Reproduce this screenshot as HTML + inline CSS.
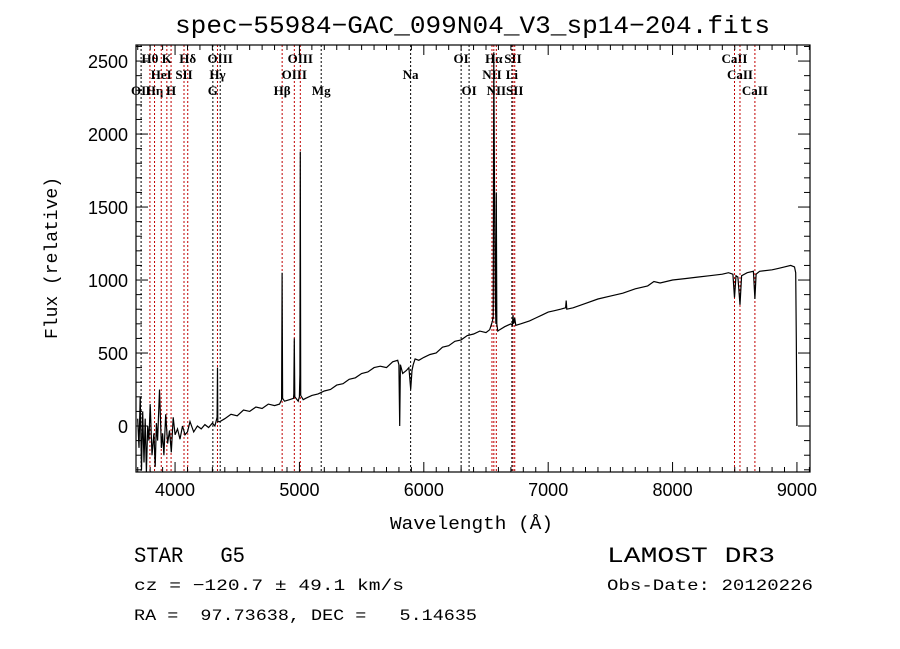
<!DOCTYPE html>
<html><head><meta charset="utf-8">
<style>
html,body{margin:0;padding:0;background:#fff;}
svg{display:block;font-family:"Liberation Sans",sans-serif;}
text{white-space:pre;}
.t{font-family:"Liberation Mono",monospace;}
.lab{font-family:"Liberation Serif",serif;font-size:13px;font-weight:bold;}
</style></head>
<body>
<svg id="chart" width="900" height="649" viewBox="0 0 900 649">
<rect x="0" y="0" width="900" height="649" fill="#fff"/>
<text x="175" y="33" font-size="25" class="t" textLength="595" lengthAdjust="spacingAndGlyphs">spec−55984−GAC_099N04_V3_sp14−204.fits</text>
<text x="390" y="529" font-size="18" class="t" textLength="163" lengthAdjust="spacingAndGlyphs">Wavelength (Å)</text>
<text transform="translate(57,258) rotate(-90)" text-anchor="middle" font-size="18" class="t">Flux (relative)</text>
<text x="134" y="562" font-size="22" class="t" textLength="111" lengthAdjust="spacingAndGlyphs">STAR   G5</text>
<text x="134" y="590" font-size="16" class="t" textLength="270" lengthAdjust="spacingAndGlyphs">cz = −120.7 ± 49.1 km/s</text>
<text x="134" y="620" font-size="16" class="t" textLength="343" lengthAdjust="spacingAndGlyphs">RA =  97.73638, DEC =   5.14635</text>
<text x="607" y="562" font-size="22" class="t" textLength="168" lengthAdjust="spacingAndGlyphs">LAMOST DR3</text>
<text x="607" y="590" font-size="16" class="t" textLength="206" lengthAdjust="spacingAndGlyphs">Obs-Date: 20120226</text>
<g id="plot"></g>
</svg>
<script>
const xTicks=[4000,5000,6000,7000,8000,9000];
const yTicks=[0,500,1000,1500,2000,2500];
const wl=[
3700,3710,3720,3730,3740,3750,3760,3770,3780,3790,
3800,3815,3830,3840,3850,3860,3875,3890,3900,3910,
3925,3940,3955,3970,3985,4000,4020,4040,4060,4080,
4100,4120,4150,4180,4210,4240,4270,4300,4320,4338,
4341,4344,4360,4400,4450,4500,4550,4600,4650,4700,
4750,4800,4840,4857,4861,4865,4880,4920,4952,4955,
4959,4963,4990,5000,5004,5007,5010,5030,5050,5100,
5150,5200,5250,5300,5350,5400,5450,5500,5550,5600,
5650,5700,5750,5790,5800,5806,5812,5830,5860,5880,
5890,5895,5905,5915,5930,5960,6000,6050,6100,6150,
6200,6250,6300,6350,6400,6450,6500,6530,6545,6552,
6558,6563,6568,6575,6580,6583,6587,6595,6610,6650,
6700,6712,6717,6722,6731,6740,6780,6850,6900,6950,
7000,7050,7100,7140,7145,7150,7200,7300,7400,7500,
7600,7700,7800,7850,7900,8000,8100,8200,8300,8400,
8450,8485,8498,8510,8525,8542,8555,8600,8650,8662,
8672,8700,8800,8850,8900,8950,8980,8990,8995,9000];
const flux=[
50,-150,200,-300,100,-250,50,-320,0,-100,
150,-200,-50,-280,20,-100,250,-150,-50,-200,
80,-120,-30,-180,60,-60,-20,-90,0,-60,
-40,30,-40,0,-20,10,-10,20,0,60,
400,30,30,50,80,70,110,100,130,120,
150,140,150,180,1050,190,170,180,190,220,
600,200,170,200,350,1880,210,180,190,210,
220,240,250,280,290,320,330,360,370,400,
410,400,440,450,420,0,420,360,380,400,
300,250,380,420,460,450,470,490,500,540,
550,580,590,620,630,650,640,660,700,720,
750,2560,1600,880,700,1600,700,650,660,680,
700,690,760,700,740,690,700,720,740,760,
780,790,800,810,860,800,810,840,870,890,
910,940,960,990,980,1000,1010,1020,1030,1040,
1050,1040,880,1030,1020,830,1030,1050,1060,870,
1040,1060,1070,1080,1090,1100,1090,1050,600,0];
const lineWl=[3727,3798,3835,3889,3934,3968,4072,4102,4304,4341,4363,4861,4959,5007,5175,5894,6300,6364,6548,6563,6583,6708,6717,6731,8498,8542,8662];
const lineLab=["OII","Hθ","Hη","HeI","K","H","SII","Hδ","G","Hγ","OIII","Hβ","OIII","OIII","Mg","Na","OI","OI","NII","Hα","NII","Li","SII","SII","CaII","CaII","CaII"];
const lineRow=[2,0,2,1,0,2,1,0,2,1,0,2,1,0,2,1,0,2,1,0,2,1,0,2,0,1,2];
const lineRed=[0,1,1,1,1,1,1,1,0,1,0,1,1,1,0,0,0,0,1,1,1,0,1,1,1,1,1];

const L=136,R=810,T=45,B=472;
const xmin=3686,xmax=9105,ymin=-315,ymax=2610;
const xs=w=>L+(w-xmin)/(xmax-xmin)*(R-L);
const ys=v=>B-(v-ymin)/(ymax-ymin)*(B-T);
const NS="http://www.w3.org/2000/svg";
const g=document.getElementById('plot');
function mk(tag,attrs){const e=document.createElementNS(NS,tag);for(const k in attrs)e.setAttribute(k,attrs[k]);g.appendChild(e);return e;}

lineWl.forEach((w,i)=>{
  const x=xs(w);
  const ln=mk('line',{x1:x,x2:x,y1:T,y2:B,stroke:lineRed[i]?'#c00000':'#000','stroke-width':1,'stroke-dasharray':'2,2'});
  
  
  const t=mk('text',{x:x,y:63+lineRow[i]*16,'text-anchor':'middle',class:'lab'});
  t.textContent=lineLab[i];
  
  
});

const pts=wl.map((w,i)=>{const y=Math.max(T,Math.min(B,ys(flux[i])));return xs(w).toFixed(1)+','+y.toFixed(1);}).join(' ');
const pl=mk('polyline',{points:pts,fill:'none',stroke:'#000','stroke-width':1.2});



const fr=mk('rect',{x:L,y:T,width:R-L,height:B-T,fill:'none',stroke:'#000','stroke-width':1.2});



for(let w=3700;w<=9100;w+=100){
  const x=xs(w);const major=w%1000===0;const len=major?10:5;
  mk('line',{x1:x,x2:x,y1:B,y2:B-len,stroke:'#000'});
  mk('line',{x1:x,x2:x,y1:T,y2:T+len,stroke:'#000'});
}
xTicks.forEach(v=>{
  const t=mk('text',{x:xs(v),y:B+24,'text-anchor':'middle','font-size':18});
  t.textContent=v;
  
  
});
for(let v=-300;v<=2600;v+=100){
  const y=ys(v);const major=v%500===0;const len=major?12:6;
  mk('line',{x1:L,x2:L+len,y1:y,y2:y,stroke:'#000'});
  mk('line',{x1:R,x2:R-len,y1:y,y2:y,stroke:'#000'});
}
yTicks.forEach(v=>{
  const t=mk('text',{x:128,y:ys(v)+7,'text-anchor':'end','font-size':18});
  t.textContent=v;
  
  
});
</script>
</body></html>
